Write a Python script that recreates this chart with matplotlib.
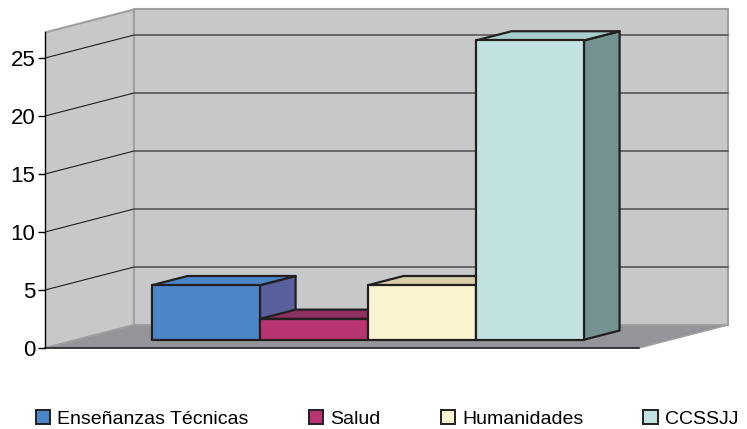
import matplotlib.pyplot as plt
from matplotlib.patches import Polygon, Patch

plt.rcParams["font.family"] = ["Liberation Sans", "DejaVu Sans"]

categories = ["Enseñanzas Técnicas", "Salud", "Humanidades", "CCSSJJ"]
values = [4.7, 1.8, 4.7, 25.8]
yticks = [0, 5, 10, 15, 20, 25]

# face colours: front, top, side
face_colors = [
    ("#4a86c8", "#4a86c8", "#5a5f9e"),
    ("#b83572", "#8e3060", "#7a2a55"),
    ("#faf3d0", "#d8cfa8", "#b8b090"),
    ("#c2e2e1", "#a7cfce", "#74928f"),
]

W, H = 747, 429
PX_X, PX_Y = 108.0, 11.6          # pixels per category / per unit
X0_PX, Y0_PX = 45, 348            # pixel position of front-left origin
DX, DY = 89 / PX_X, 23 / PX_Y     # full depth offset in data units
FLOOR_W = 5.5
WALL_H = 27.2
F0, F1 = 0.36, 0.76               # bar front/back depth fraction
BAR_X0 = 0.694

fig = plt.figure(figsize=(W / 100, H / 100), dpi=100)
ax_w, ax_h = 700, 346
ax = fig.add_axes([X0_PX / W, (H - Y0_PX) / H, ax_w / W, ax_h / H])
ax.set_xlim(0, ax_w / PX_X)
ax.set_ylim(0, ax_h / PX_Y)

for s in ["top", "right", "bottom"]:
    ax.spines[s].set_visible(False)
ax.spines["left"].set_bounds(0, WALL_H)
ax.spines["left"].set_linewidth(1.0)
ax.spines["left"].set_zorder(10)
ax.set_xticks([])
ax.set_yticks(yticks)
ax.tick_params(axis="y", direction="out", length=5, width=1.0, labelsize=16, pad=2)
ax.set_facecolor("none")

wall = "#c7c8ca"
edge = "#a0a0a2"
floor = [(0, 0), (FLOOR_W, 0), (FLOOR_W + DX, DY), (DX, DY)]
left_wall = [(0, 0), (DX, DY), (DX, DY + WALL_H), (0, WALL_H)]
back_wall = [(DX, DY), (DX + FLOOR_W, DY), (DX + FLOOR_W, DY + WALL_H), (DX, DY + WALL_H)]
ax.add_patch(Polygon(left_wall, closed=True, fc=wall, ec=edge, lw=1.5, zorder=1))
ax.add_patch(Polygon(back_wall, closed=True, fc=wall, ec=edge, lw=1.5, zorder=1))
ax.add_patch(Polygon(floor, closed=True, fc="#939598", ec=edge, lw=1.0, zorder=1))
ax.plot([0, FLOOR_W], [0, 0], color="#231f20", lw=1.2, zorder=2, clip_on=False)

for v in yticks[1:]:
    ax.plot([0, DX, DX + FLOOR_W], [v, DY + v, DY + v], color="#231f20", lw=0.8, zorder=2)

ec = "#231f20"
for i, (val, (cf, ct, cs)) in enumerate(zip(values, face_colors)):
    x0 = BAR_X0 + i + F0 * DX
    x1 = x0 + 1
    y0 = F0 * DY
    y1 = y0 + val
    ddx, ddy = (F1 - F0) * DX, (F1 - F0) * DY
    z = 3 + i
    ax.add_patch(Polygon([(x1, y0), (x1 + ddx, y0 + ddy), (x1 + ddx, y1 + ddy), (x1, y1)],
                         closed=True, fc=cs, ec=ec, lw=1.6, zorder=z, joinstyle="round"))
    ax.add_patch(Polygon([(x0, y1), (x1, y1), (x1 + ddx, y1 + ddy), (x0 + ddx, y1 + ddy)],
                         closed=True, fc=ct, ec=ec, lw=1.6, zorder=z, joinstyle="round"))
    ax.add_patch(Polygon([(x0, y0), (x1, y0), (x1, y1), (x0, y1)],
                         closed=True, fc=cf, ec=ec, lw=1.6, zorder=z, joinstyle="round"))

handles = [Patch(fc=c[0], ec="#231f20", lw=1.4) for c in face_colors]
fig.legend(handles, categories, loc="center", bbox_to_anchor=(0.518, 1 - 419 / H),
           ncol=4, frameon=False, fontsize=14, handlelength=0.75, handleheight=0.75,
           handletextpad=0.35, columnspacing=3.1, borderaxespad=0, borderpad=0.1)

fig.savefig("out.png", dpi=100)
